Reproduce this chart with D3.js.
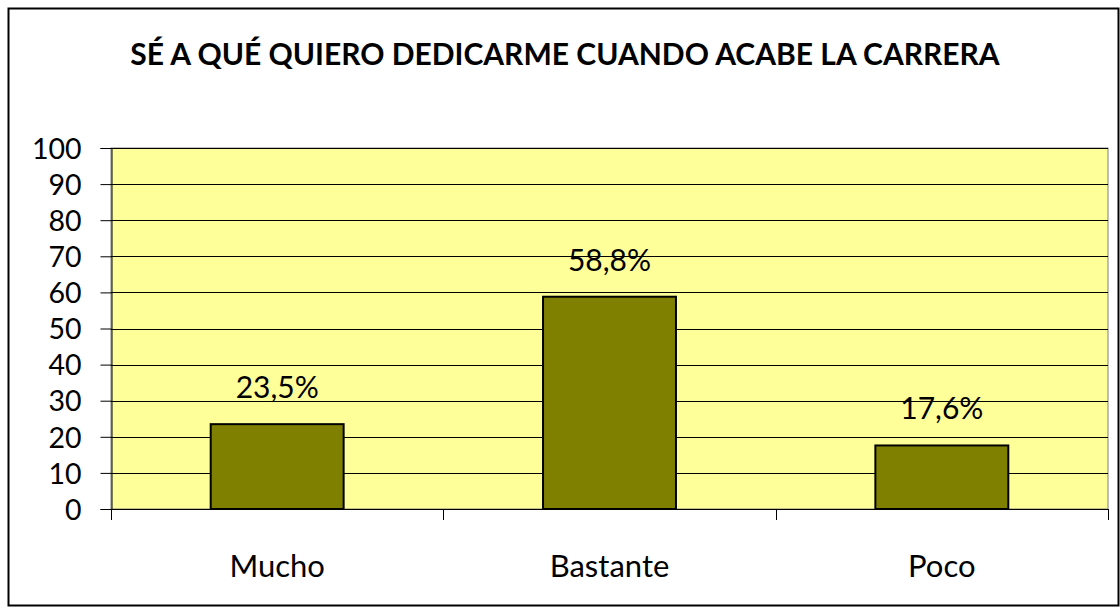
<!DOCTYPE html>
<html><head><meta charset="utf-8">
<script src="https://cdn.jsdelivr.net/npm/d3@7/dist/d3.min.js"></script>
<style>body{margin:0;background:#fff}svg{display:block}</style>
</head><body>
<svg id="c" width="1120" height="607"></svg>
<script>
const title = "SÉ A QUÉ QUIERO DEDICARME CUANDO ACABE LA CARRERA";
const categories = ["Mucho", "Bastante", "Poco"];
const values = [23.5, 58.8, 17.6];
const labels = ["23,5%", "58,8%", "17,6%"];
const yTicks = [0, 10, 20, 30, 40, 50, 60, 70, 80, 90, 100];

const font = "Lato, 'Open Sans', sans-serif";
const svg = d3.select("#c");
svg.append("rect").attr("x", 8.5).attr("y", 8.5).attr("width", 1110).attr("height", 597)
  .attr("fill", "#fff").attr("stroke", "#000").attr("stroke-width", 2);

const m = {l: 111, r: 1108, t: 148, b: 509};
const x = d3.scaleBand().domain(categories).range([m.l, m.r]).paddingInner(0.6).paddingOuter(0.3);
const xb = d3.scaleBand().domain(categories).range([m.l, m.r]);
const y = d3.scaleLinear().domain([0, 100]).range([m.b, m.t]);

svg.append("rect").attr("x", m.l).attr("y", m.t).attr("width", m.r - m.l).attr("height", m.b - m.t)
  .attr("fill", "#FFFF99").attr("stroke", "#808080").attr("stroke-width", 1);

svg.append("g").selectAll("line").data(yTicks.filter(d => d > 0)).join("line")
  .attr("x1", m.l).attr("x2", m.r).attr("y1", d => Math.round(y(d)) + 0.5).attr("y2", d => Math.round(y(d)) + 0.5)
  .attr("stroke", "#000").attr("stroke-width", 1);

// y axis
const ya = svg.append("g").attr("transform", `translate(${m.l + 0.5},0)`)
  .call(d3.axisLeft(y).tickValues(yTicks).tickSize(11).tickPadding(19));
ya.select(".domain").attr("stroke", "#000");
ya.selectAll(".tick line").attr("stroke", "#000");
ya.selectAll("text").attr("font-family", font).attr("font-size", 28.5).attr("fill", "#000").attr("dy", "0.36em");

// x axis
svg.append("line").attr("x1", m.l).attr("x2", m.r).attr("y1", m.b + 0.5).attr("y2", m.b + 0.5).attr("stroke", "#000");
const bounds = categories.map(c => xb(c)).concat([m.r]);
svg.append("g").selectAll("line").data(bounds).join("line")
  .attr("x1", d => Math.round(d) + 0.5).attr("x2", d => Math.round(d) + 0.5)
  .attr("y1", m.b).attr("y2", m.b + 11).attr("stroke", "#000");
svg.append("g").selectAll("text").data(categories).join("text")
  .attr("x", d => xb(d) + xb.bandwidth() / 2).attr("y", 577)
  .attr("text-anchor", "middle").attr("font-family", font).attr("font-size", 31).attr("fill", "#000")
  .text(d => d);

// bars
svg.append("g").selectAll("rect").data(values).join("rect")
  .attr("x", (d, i) => x(categories[i])).attr("width", x.bandwidth())
  .attr("y", d => y(d)).attr("height", d => m.b - y(d))
  .attr("fill", "#808000").attr("stroke", "#000").attr("stroke-width", 2);

svg.append("g").selectAll("text").data(values).join("text")
  .attr("x", (d, i) => x(categories[i]) + x.bandwidth() / 2).attr("y", d => y(d) - 26)
  .attr("text-anchor", "middle").attr("font-family", font).attr("font-size", 30).attr("fill", "#000")
  .text((d, i) => labels[i]);

svg.append("text").attr("x", 565).attr("y", 65).attr("text-anchor", "middle")
  .attr("font-family", font).attr("font-weight", "bold").attr("font-size", 30).attr("fill", "#000")
  .text(title);
</script>
</body></html>
